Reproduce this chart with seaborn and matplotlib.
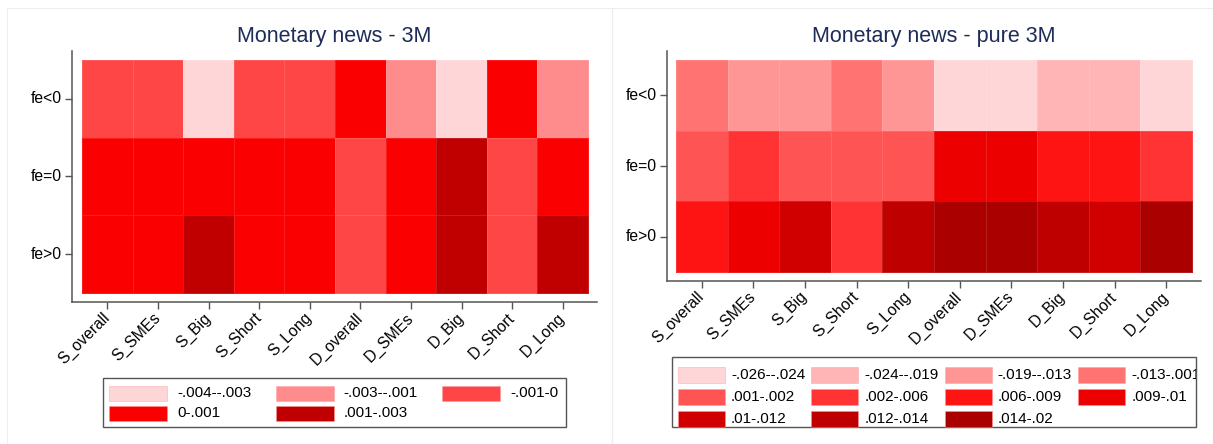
import numpy as np
import pandas as pd
import matplotlib
matplotlib.use("Agg")
import matplotlib.pyplot as plt
from matplotlib.colors import ListedColormap, BoundaryNorm
from matplotlib.patches import Rectangle
import seaborn as sns

# ---------------------------------------------------------------- data
columns = ["S_overall", "S_SMEs", "S_Big", "S_Short", "S_Long",
           "D_overall", "D_SMEs", "D_Big", "D_Short", "D_Long"]
rows = ["fe<0", "fe=0", "fe>0"]

# Monetary news - 3M
left_fe_neg = [-0.0006, -0.0004, -0.0034, -0.0007, -0.0005, 0.0003, -0.0019, -0.0036, 0.0002, -0.0016]
left_fe_zero = [0.0004, 0.0006, 0.0005, 0.0007, 0.0006, -0.0003, 0.0004, 0.0018, -0.0004, 0.0008]
left_fe_pos = [0.0007, 0.0009, 0.0021, 0.0006, 0.0008, -0.0002, 0.0005, 0.0024, -0.0003, 0.0017]
left_bins = [-0.004, -0.003, -0.001, 0.0, 0.001, 0.003]
left_labels = ["-.004--.003", "-.003--.001", "-.001-0", "0-.001", ".001-.003"]
left_colors = ["#FFD6D8", "#FF8C8C", "#FF4646", "#FB0000", "#C00000"]

# Monetary news - pure 3M
right_fe_neg = [-0.0105, -0.0162, -0.0148, -0.0091, -0.0139, -0.0254, -0.0249, -0.0213, -0.0201, -0.0257]
right_fe_zero = [0.0015, 0.0041, 0.0014, 0.0017, 0.0012, 0.0095, 0.0093, 0.0074, 0.0081, 0.0038]
right_fe_pos = [0.0078, 0.0096, 0.0108, 0.0052, 0.0127, 0.0168, 0.0182, 0.0131, 0.0113, 0.0159]
right_bins = [-0.026, -0.024, -0.019, -0.013, 0.001, 0.002, 0.006, 0.009, 0.010, 0.012, 0.014, 0.020]
right_labels = ["-.026--.024", "-.024--.019", "-.019--.013", "-.013-.001",
                ".001-.002", ".002-.006", ".006-.009", ".009-.01",
                ".01-.012", ".012-.014", ".014-.02"]
right_colors = ["#FFD6D8", "#FFB5B5", "#FF9696", "#FF7373", "#FF5454", "#FF3333",
                "#FF1414", "#EC0000", "#D00000", "#BE0000", "#AA0000"]

# ---------------------------------------------------------------- style
sns.set_theme(style="white")
plt.rcParams["font.family"] = ["Liberation Sans", "DejaVu Sans"]

W, H = 1213, 444
fig = plt.figure(figsize=(W / 100, H / 100), dpi=100)
fig.patch.set_facecolor("white")

TITLE_COLOR = "#1E2C58"
AXIS_COLOR = "#555555"


def fx(x):
    return x / W


def fy(y):
    return 1 - y / H


def px_axes(x0, y0, x1, y1):
    return fig.add_axes([fx(x0), fy(y1), fx(x1) - fx(x0), fy(y0) - fy(y1)])


def draw_panel(box, cells, values, bins, colors, title):
    """Heatmap panel; box = axes frame, cells = extent of the coloured grid (pixels)."""
    ax = px_axes(*box)
    df = pd.DataFrame(values, index=rows, columns=columns)
    cmap = ListedColormap(colors)
    norm = BoundaryNorm(bins, len(colors))
    sns.heatmap(df, ax=ax, cmap=cmap, norm=norm, cbar=False,
                linewidths=0.4, linecolor=(1, 1, 1, 0.12))
    # pad the frame around the cells so the axis lines sit slightly apart
    cx0, cy0, cx1, cy1 = cells
    bx0, by0, bx1, by1 = box
    ux = (cx1 - cx0) / len(columns)
    uy = (cy1 - cy0) / len(rows)
    ax.set_xlim((bx0 - cx0) / ux, len(columns) + (bx1 - cx1) / ux)
    ax.set_ylim(len(rows) + (by1 - cy1) / uy, (by0 - cy0) / uy)
    for side in ["top", "right"]:
        ax.spines[side].set_visible(False)
    for side in ["left", "bottom"]:
        ax.spines[side].set_visible(True)
        ax.spines[side].set_color(AXIS_COLOR)
        ax.spines[side].set_linewidth(1.1)
    ax.tick_params(axis="both", which="major", direction="out", length=5,
                   width=1.0, color=AXIS_COLOR, labelsize=11.3,
                   labelcolor="black", pad=2, left=True, bottom=True)
    ax.set_xlabel("")
    ax.set_ylabel("")
    ax.set_yticklabels(rows, rotation=0)
    ax.set_xticklabels(columns, rotation=45, ha="right", va="center",
                       rotation_mode="anchor")
    for lab in ax.get_xticklabels():
        lab.set_y(-0.015)
    fig.text(fx((bx0 + bx1) / 2), fy(36), title, ha="center", va="center",
             fontsize=15.5, color=TITLE_COLOR)
    return ax


def draw_legend(frame, ncols, col_x0, col_step, row_y, sw_w, sw_h, txt_dx, labels, colors):
    x0, y0, x1, y1 = frame
    box = Rectangle((fx(x0), fy(y1)), fx(x1) - fx(x0), fy(y0) - fy(y1),
                    transform=fig.transFigure, facecolor="white",
                    edgecolor=AXIS_COLOR, linewidth=1.0)
    fig.add_artist(box)
    for i, (lab, col) in enumerate(zip(labels, colors)):
        r, c = divmod(i, ncols)
        sx = col_x0 + c * col_step
        sy = row_y[r]
        sw = Rectangle((fx(sx), fy(sy + sw_h / 2)), fx(sw_w), sw_h / H,
                       transform=fig.transFigure, facecolor=col,
                       edgecolor=(1, 0.6, 0.6, 0.6), linewidth=0.5)
        fig.add_artist(sw)
        t = fig.text(fx(sx + txt_dx), fy(sy), lab, ha="left", va="center",
                     fontsize=11, color="black")
        t.set_clip_path(box)
        t.set_clip_on(True)


# faint panel outlines
for (px0, px1) in [(7, 612), (612, 1213)]:
    fig.add_artist(Rectangle((fx(px0), 0), fx(px1) - fx(px0), fy(8),
                             transform=fig.transFigure, facecolor="none",
                             edgecolor="#EEEEEE", linewidth=0.8))

draw_panel((72, 51, 597, 302), (82, 60, 588, 293),
           [left_fe_neg, left_fe_zero, left_fe_pos],
           left_bins, left_colors, "Monetary news - 3M")
draw_panel((667, 51, 1201, 281), (676, 60, 1192, 272),
           [right_fe_neg, right_fe_zero, right_fe_pos],
           right_bins, right_colors, "Monetary news - pure 3M")

draw_legend((103, 378, 566, 427), 3, 109, 166.5, [393, 413], 58, 15, 68,
            left_labels, left_colors)
draw_legend((672, 357, 1196, 427), 4, 678, 133.4, [375, 397, 419], 47, 16, 53,
            right_labels, right_colors)

fig.savefig("out.png", dpi=100, facecolor="white")
